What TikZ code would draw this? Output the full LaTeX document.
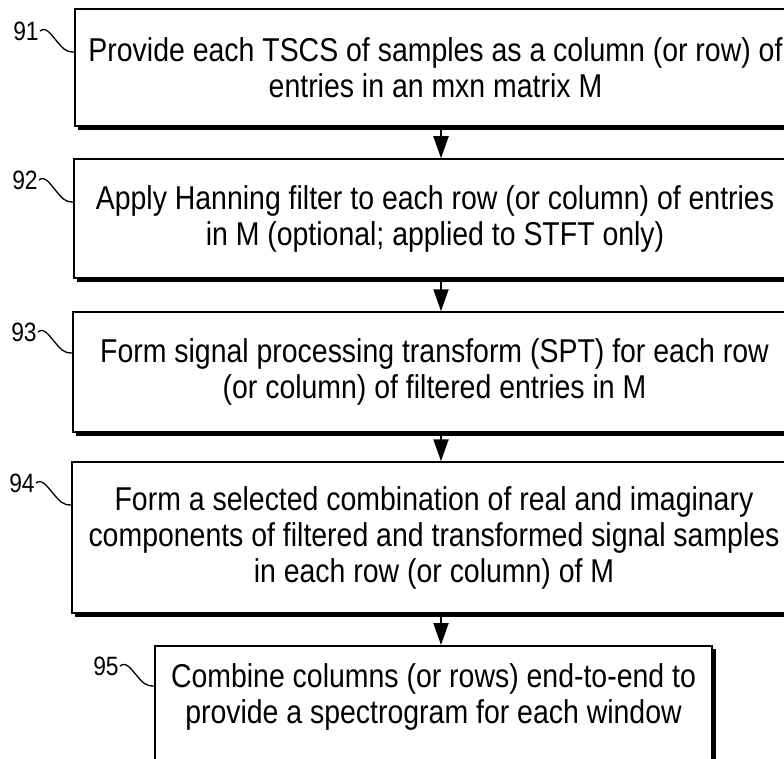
\documentclass[tikz,border=0pt]{standalone}
\usepackage{fontspec}
\setmainfont{Liberation Sans}[FakeStretch=0.862]
\usetikzlibrary{arrows.meta,calc}
\begin{document}
\begin{tikzpicture}[x=1pt,y=-1pt,
  box/.style={draw, line width=1.5pt, rectangle, align=center, inner sep=0pt,
              font=\fontsize{33}{36}\selectfont},
  num/.style={inner sep=0pt, font=\fontsize{26.5}{26.5}\selectfont},
  arr/.style={line width=2pt, -{Triangle[length=22pt,width=15pt]}},
  squig/.style={line width=1.3pt},
  shade/.style={line width=3.5pt}]
\useasboundingbox (0,0) rectangle (784,759);
\fill[white] (0,0) rectangle (784,759);
\node[box, minimum width=721pt, minimum height=117pt] (b1) at (435.5,67.5)
  {Provide each TSCS of samples as a column (or row) of\\ entries in an mxn matrix M};
\node[box, minimum width=722pt, minimum height=119pt] (b2) at (435,218.5)
  {Apply Hanning filter to each row (or column) of entries\\ in M (optional; applied to STFT only)};
\node[box, minimum width=723pt, minimum height=120pt] (b3) at (434.5,372)
  {Form signal processing transform (SPT) for each row\\ (or column) of filtered entries in M};
\node[box, minimum width=724pt, minimum height=151pt] (b4) at (434,537.5)
  {Form a selected combination of real and imaginary\\ components of filtered and transformed signal samples\\ in each row (or column) of M};
\node[box, minimum width=557pt, anchor=north, inner ysep=18pt, text depth=120pt] (b5) at (433.5,645)
  {Combine columns (or rows) end-to-end to\\ provide a spectrogram for each window};
% shadows
\foreach \b in {b1,b2,b3,b4}
  \draw[shade] ([xshift=4pt,yshift=-1.5pt]\b.south west) -- ([yshift=-1.5pt]\b.south east);
\draw[shade] ([xshift=1.5pt,yshift=-4pt]b5.north east) -- ([xshift=1.5pt]b5.south east);
% arrows
\coordinate (ax) at (441,0);
\draw[arr] (b1.south -| ax) -- (b2.north -| ax);
\draw[arr] (b2.south -| ax) -- (b3.north -| ax);
\draw[arr] (b3.south -| ax) -- (b4.north -| ax);
\draw[arr] (b4.south -| ax) -- (b5.north -| ax);
% reference labels
\node[num] (l1) at (26,31) {91};
\node[num] (l2) at (25,180) {92};
\node[num] (l3) at (24,332) {93};
\node[num] (l4) at (22,483) {94};
\node[num] (l5) at (106,666) {95};
\coordinate (e1) at (b1.west |- 0,52);
\coordinate (e2) at (b2.west |- 0,202);
\coordinate (e3) at (b3.west |- 0,353);
\coordinate (e4) at (b4.west |- 0,505);
\coordinate (e5) at (b5.west |- 0,686);
\foreach \i in {1,...,5}
  \draw[squig] ([xshift=1pt]l\i.east) .. controls +(6,-5) and +(-6,-7) .. ($([xshift=1pt]l\i.east)!0.5!(e\i)$)
     .. controls +(6,7) and +(-9,0) .. (e\i);
\end{tikzpicture}
\end{document}
